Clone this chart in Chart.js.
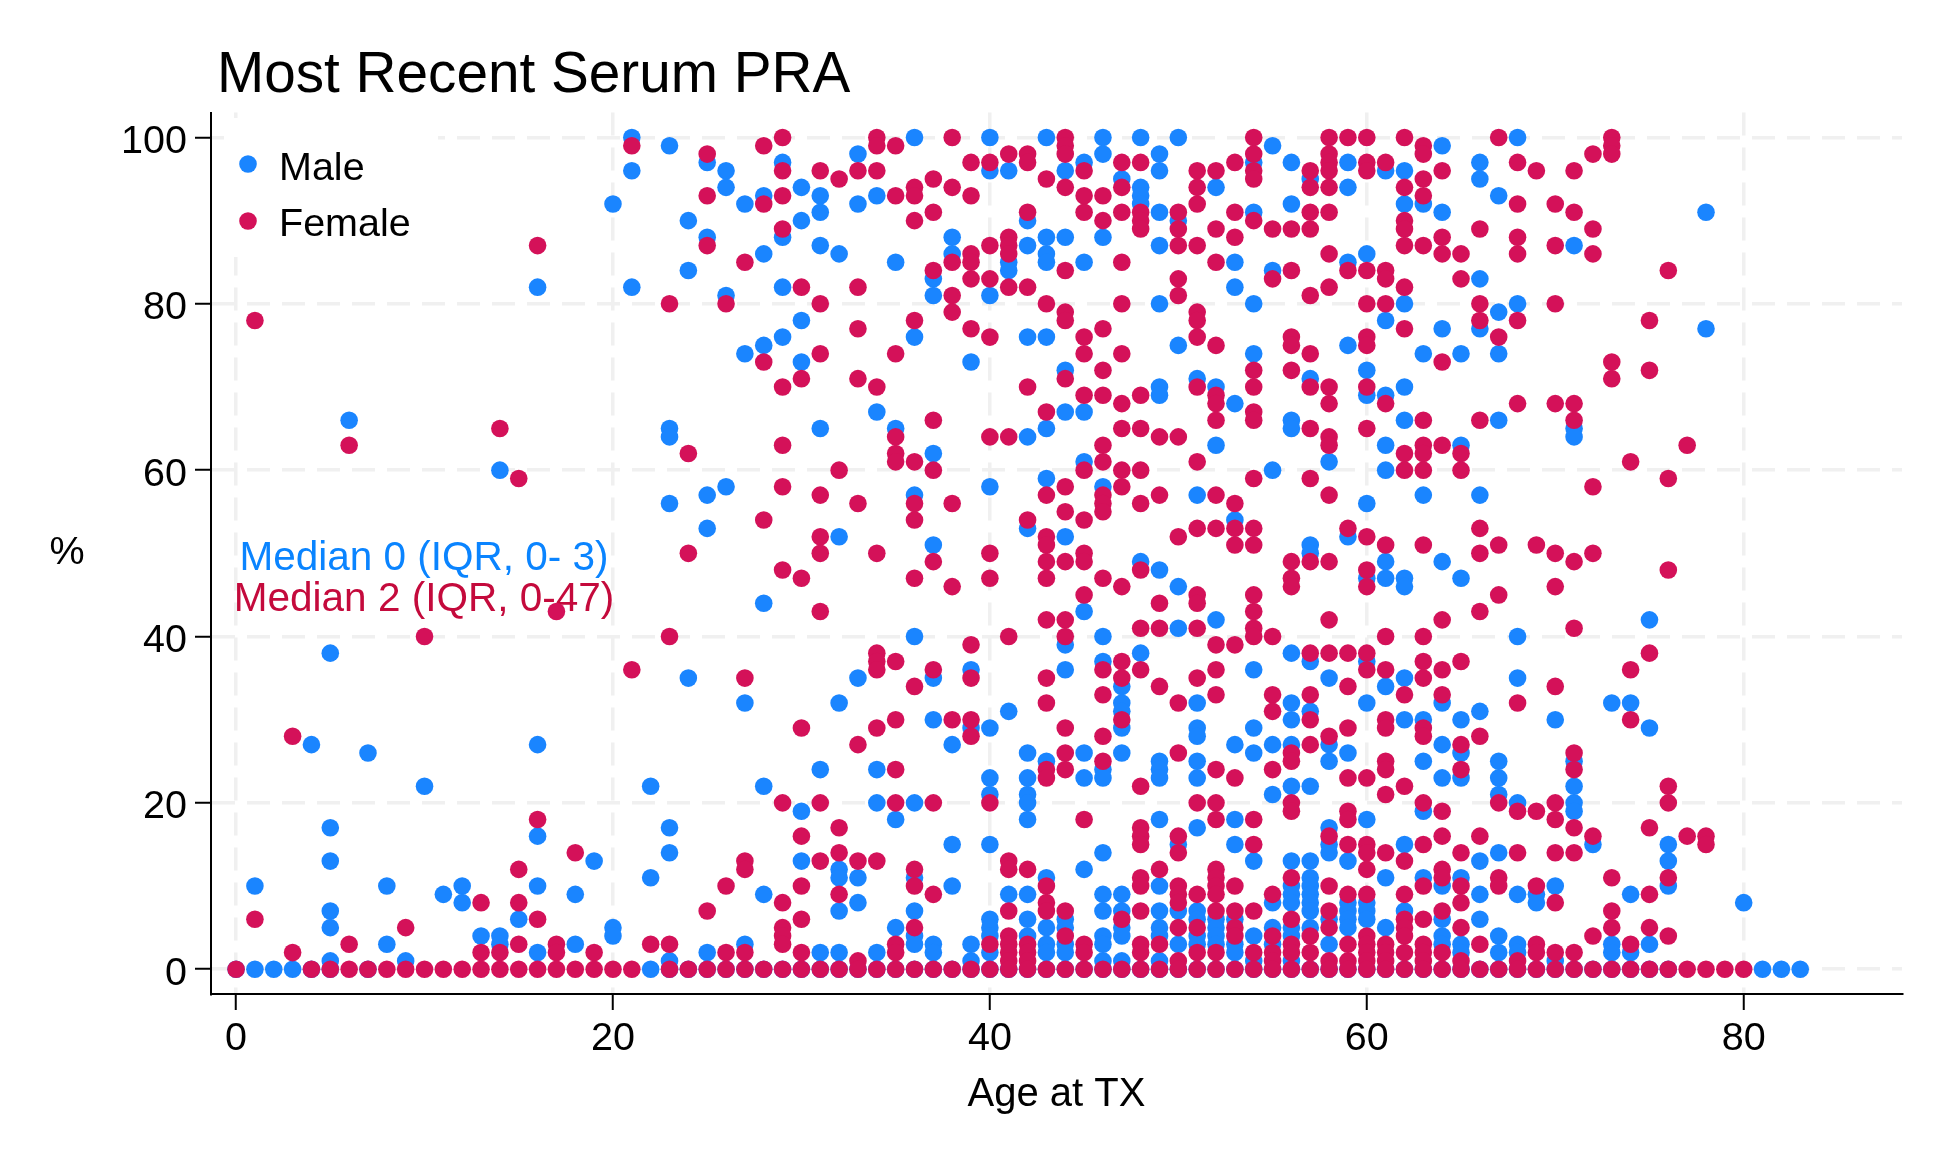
<!DOCTYPE html>
<html><head><meta charset="utf-8">
<script src="https://cdn.jsdelivr.net/npm/chart.js@4"></script>
<style>html,body{margin:0;padding:0;background:#fff}canvas{display:block}</style>
</head><body><canvas id="c" width="1944" height="1166"></canvas>
<script>
const maleByAge = {
0:[0],1:[10,0],2:[0],3:[0],4:[27,0],5:[38,17,13,7,5,1,0],6:[66],7:[26,0],8:[10,3],9:[1],10:[22],11:[9],12:[10,8],13:[4],14:[60,4,3],15:[6],16:[82,27,16,10,2],18:[9,3],19:[13],20:[92,5,4],
21:[100,96,82],22:[22,11,0],23:[99,65,64,56,17,14,1,0],24:[90,84,35,0],25:[97,88,57,53,2,0],26:[96,94,81,58,0],27:[92,74,32,3,0],28:[93,86,75,44,22,9,0],29:[97,88,82,76,0],30:[94,90,78,73,19,13,0],
31:[93,91,87,65,24,2,0],32:[86,52,32,12,11,7,2,0],33:[98,92,35,11,8,0],34:[93,67,24,20,2,0],35:[85,65,18,5,0],36:[100,76,57,40,20,11,7,4,3,0],37:[83,81,62,51,35,30,3,2,0],38:[88,86,27,15,10,0],39:[73,36,29,3,1,0],40:[100,96,81,58,29,23,21,15,6,5,4,2,0],
41:[96,85,84,31,9,0],42:[90,87,76,64,53,26,23,21,20,18,9,6,4,0],43:[100,88,86,85,76,65,59,25,11,5,3,2,0],44:[96,88,72,67,52,39,36,6,5,3,2,0],45:[97,85,67,61,43,26,23,12,0],46:[100,98,88,58,40,37,24,23,14,9,7,4,3,1,0],47:[95,34,32,31,29,26,9,7,5,4,1,0],48:[100,94,93,92,49,38,0],49:[98,96,91,87,80,70,69,48,25,24,23,18,10,7,5,4,1,0],50:[100,90,75,46,41,15,7,3,0],
51:[71,57,32,29,28,25,23,17,7,6,4,3,0],52:[94,70,63,42,6,5,4,3,0],53:[85,82,68,54,27,18,15,6,3,2,0],54:[97,91,80,74,36,29,26,13,4,1,0],55:[99,84,60,27,21,8,5,3,0],56:[97,92,66,65,38,32,30,27,22,13,10,9,8,5,4,1,0],57:[95,71,51,50,37,31,22,13,11,10,9,8,7,5,0],58:[61,35,27,25,17,15,14,6,3,0],59:[97,94,85,75,52,26,13,8,7,6,5,0],60:[86,72,69,56,47,37,32,18,8,7,6,0],
61:[96,78,69,63,60,49,47,34,11,5,0],62:[96,92,80,70,66,47,46,35,30,15,7,0],63:[92,74,57,30,25,19,11,0],64:[99,91,77,49,32,27,23,10,6,4,3,0],65:[74,63,47,30,26,23,11,3,2,0],66:[97,95,83,77,57,31,13,9,6,0],67:[93,79,74,66,25,23,21,14,4,2,0],68:[100,80,40,35,20,9,3,2,0],69:[9,8,0],70:[30,10,1,0],
71:[87,65,64,25,22,20,19,0],72:[15,0],73:[32,3,2,0],74:[32,9,2,0],75:[42,29,3,0],76:[15,13,10,0],78:[91,77],80:[8],81:[0],82:[0],83:[0]
};
const femaleByAge = {
0:[0],1:[78,6],3:[28,2],4:[0],5:[0],6:[63,3,0],7:[0],8:[0],9:[5,0],10:[40,0],11:[0],12:[0],13:[8,2,0],14:[65,2,0],15:[59,12,8,3,0],16:[87,18,6,0],17:[43,3,2,0],18:[14,0],19:[2,0],20:[0],
21:[99,36,0],22:[3],23:[80,40,3,0],24:[62,50,0],25:[98,93,87,7,0],26:[80,10,2,0],27:[85,35,13,12,2,0],28:[99,92,73,54,0],29:[100,96,93,89,70,63,58,48,20,8,5,4,3,0],30:[82,71,47,29,16,10,6,2,0],
31:[96,80,74,57,52,50,43,20,13,0],32:[95,60,17,14,9,0],33:[96,82,77,71,56,27,13,1,0],34:[100,99,96,70,50,38,37,36,29,13,0],35:[99,93,74,64,62,61,37,30,24,20,3,2,0],36:[94,93,90,78,61,56,54,47,34,12,10,5,0],37:[95,91,84,66,60,49,36,20,9,0],38:[100,94,85,81,79,56,46,30,0],39:[97,93,86,85,83,77,39,35,30,28,0],40:[97,87,83,76,64,50,47,20,3,0],
41:[98,88,87,86,82,64,40,13,12,7,4,3,2,1,0],42:[98,97,91,82,70,54,12,3,2,1,0],43:[95,80,67,57,52,51,49,47,42,35,32,24,23,10,8,7,0],44:[100,99,98,94,84,79,78,71,58,55,49,42,40,29,26,24,7,4,0],45:[96,93,91,76,74,69,60,54,50,49,45,18,3,2,0],46:[93,90,77,72,69,63,61,57,56,55,47,36,33,28,25,0],47:[97,94,91,85,80,74,68,65,60,58,46,37,35,30,6,0],48:[97,91,90,89,69,65,60,56,48,41,36,22,17,16,15,11,10,7,3,2,0],49:[64,57,44,41,34,12,3,0],50:[91,89,87,83,81,64,52,32,26,16,14,10,9,8,5,1,0],
51:[96,94,92,87,79,78,76,70,61,53,45,44,41,35,20,9,5,2,0],52:[96,89,85,75,69,68,66,57,53,39,36,33,24,20,18,12,11,10,9,7,2,0],53:[97,91,88,56,53,51,39,23,10,7,5,4,0],54:[100,98,96,95,90,72,70,67,66,59,53,51,45,43,41,40,18,15,7,2,0],55:[89,83,40,33,31,24,9,4,2,1,0],56:[89,84,76,75,72,49,47,46,26,25,20,19,11,6,3,2,0],57:[96,94,91,89,81,74,70,65,59,49,38,33,30,27,4,2,0],58:[100,98,97,96,94,91,86,82,70,68,64,63,57,49,42,38,28,16,10,7,5,1,0],59:[100,84,53,38,34,29,23,19,18,15,9,3,1,0],60:[100,97,96,84,80,76,75,70,65,52,48,46,38,36,23,15,14,12,9,4,3,2,1,0],
61:[97,84,83,80,68,51,40,36,30,29,25,24,21,14,3,2,1,0],62:[100,94,90,89,87,82,77,62,60,33,22,13,9,6,5,4,2,0],63:[99,98,95,93,87,66,63,62,60,51,40,37,35,29,28,20,15,10,6,3,2,1,0],64:[96,88,86,73,63,42,36,33,19,16,12,11,7,2,0],65:[86,83,62,60,37,27,24,14,10,8,5,1,0],66:[89,80,78,66,53,50,43,28,16,3,0],67:[100,76,51,45,20,11,10,0],68:[97,92,88,86,78,68,32,19,14,1,0],69:[96,51,19,10,3,2,0],70:[92,87,80,68,50,46,34,20,18,14,8,2,0],
71:[96,91,68,66,49,41,26,24,17,14,2,0],72:[98,89,86,58,50,16,4,0],73:[100,99,98,73,71,11,7,5,0],74:[61,36,30,3,0],75:[78,72,38,17,9,5,0],76:[84,59,48,22,20,11,4,0],77:[63,16,0],78:[16,15,0],79:[0],80:[0]
};
const xTickStep = 20, yTickStep = 20;
const titleText = 'Most Recent Serum PRA';
const xTitle = 'Age at TX', yTitle = '%';
const seriesNames = ['Male','Female'];
const medianNotes = ['Median 0 (IQR, 0- 3)','Median 2 (IQR, 0-47)'];
const BLUE='#1A85FF', RED='#D41159', NOTE_BLUE='#0A84FF', NOTE_RED='#C40A3C';
const FF='"Liberation Sans", Arial, sans-serif';

const toPoints = byAge => Object.keys(byAge).flatMap(a => byAge[a].map(v => ({x:+a, y:v})));

const overlay = {
  id:'overlay',
  afterLayout(chart){ chart.titleBlock.left += 6; },
  beforeDraw(chart){
    chart.scales.y.getLabelItems().forEach(it => {
      const t = it.options.translation;
      it.options.translation = [t[0], t[1] + 4.5];
    });
  },
  beforeDatasetsDraw(chart){
    const c = chart.ctx; c.save();
    c.fillStyle='#fff'; c.fillRect(224,118,214,139);
    c.beginPath(); c.fillStyle=BLUE; c.arc(248,164,8.8,0,7); c.fill();
    c.beginPath(); c.fillStyle=RED; c.arc(248,221,8.8,0,7); c.fill();
    c.fillStyle='#000'; c.textAlign='left'; c.textBaseline='alphabetic'; c.font='39.5px '+FF;
    c.fillText(seriesNames[0],279,180);
    c.fillText(seriesNames[1],279,236);
    c.textAlign='center';
    c.fillText(yTitle,67,564);
    c.font='40.5px '+FF;
    c.fillStyle=NOTE_BLUE; c.fillText(medianNotes[0],424,570);
    c.fillStyle=NOTE_RED; c.fillText(medianNotes[1],424,611);
    c.restore();
  }
};
new Chart(document.getElementById('c'),{
  type:'scatter',
  data:{datasets:[
    {label:seriesNames[1],data:toPoints(femaleByAge),backgroundColor:RED,borderWidth:0,pointRadius:8.8,order:0},
    {label:seriesNames[0],data:toPoints(maleByAge),backgroundColor:BLUE,borderWidth:0,pointRadius:8.8,order:1}
  ]},
  options:{
    responsive:false,animation:false,devicePixelRatio:1,
    layout:{padding:{top:0,right:42,left:0,bottom:47}},
    plugins:{
      legend:{display:false},tooltip:{enabled:false},
      title:{display:true,text:titleText,align:'start',fullSize:false,color:'#000',
        font:{family:FF,size:56.7,weight:'normal',lineHeight:1},padding:{top:48,bottom:7.8}}
    },
    scales:{
      x:{type:'linear',min:-1.33,max:88.4,
        ticks:{stepSize:xTickStep,includeBounds:false,color:'#000',font:{family:FF,size:39.5},maxRotation:0,padding:5},
        grid:{color:'#f0f0f0',lineWidth:3.5,tickColor:'#000',tickWidth:2,tickLength:16,tickBorderDash:[]},
        border:{display:true,color:'#000',width:2,dash:[23,12]},
        title:{display:true,text:xTitle,color:'#000',font:{family:FF,size:40},padding:{top:8,bottom:0}},
        afterFit(s){s.height=125;}
      },
      y:{type:'linear',min:-2.98,max:103,
        ticks:{stepSize:yTickStep,includeBounds:false,color:'#000',font:{family:FF,size:39.5},padding:8},
        grid:{color:'#f0f0f0',lineWidth:3.5,tickColor:'#000',tickWidth:2,tickLength:16,tickBorderDash:[]},
        border:{display:true,color:'#000',width:2,dash:[23,12]},
        afterFit(s){s.width=211;}
      }
    }
  },
  plugins:[overlay]
});
</script></body></html>
